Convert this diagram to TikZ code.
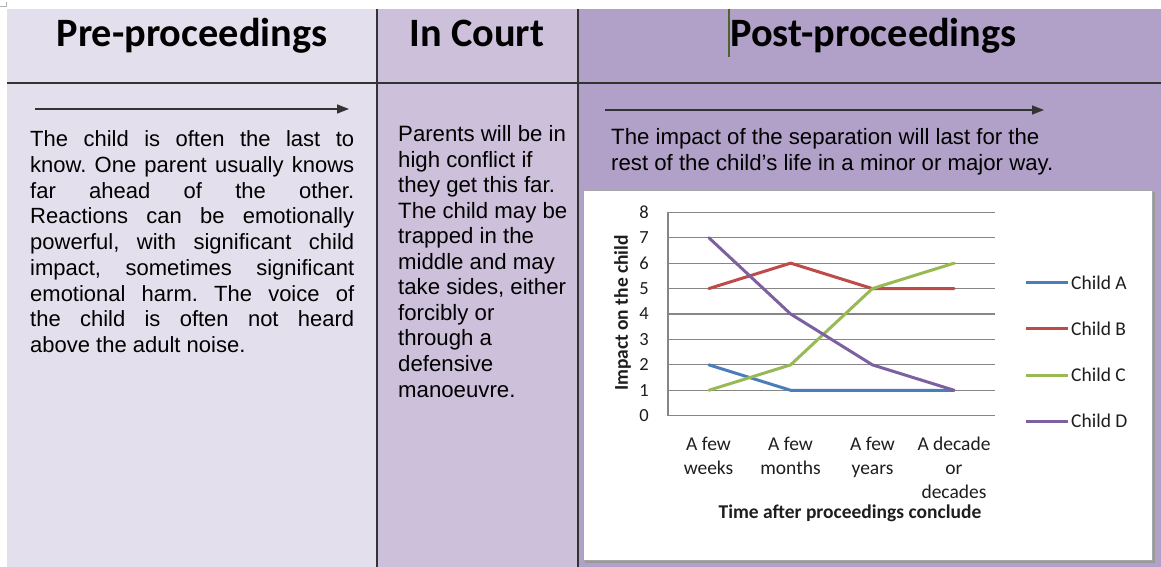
\documentclass[tikz,border=0pt]{standalone}
\usepackage{fontspec}
\setmainfont{Liberation Sans}
\newfontfamily\calfont{Carlito}
\usetikzlibrary{arrows.meta}
\frenchspacing
\definecolor{fillA}{HTML}{E4DFEC}
\definecolor{fillB}{HTML}{CCC0DA}
\definecolor{fillC}{HTML}{B1A0C7}
\definecolor{rule}{HTML}{333333}
\definecolor{gridc}{HTML}{868686}
\definecolor{serA}{HTML}{4A7EBB}
\definecolor{serB}{HTML}{BE4B48}
\definecolor{serC}{HTML}{98B954}
\definecolor{serD}{HTML}{7D60A0}
\definecolor{cursor}{HTML}{4F6228}
\definecolor{chartborder}{HTML}{A6A6A6}
\definecolor{charttext}{HTML}{1E1E1E}
\begin{document}
\begin{tikzpicture}[x=1pt,y=-1pt,
  header/.style={anchor=base, inner sep=0pt, font=\calfont\bfseries\fontsize{40.3}{44}\selectfont},
  bodytext/.style={anchor=base west, inner sep=0pt},
  tablerule/.style={draw=rule, line width=1.5pt},
  timearrow/.style={draw=rule, line width=1.5pt, -{Triangle[length=12pt,width=9pt]}},
  gridline/.style={draw=gridc, line width=1.1pt},
  series/.style={line width=3pt, line join=round, line cap=round},
  tick/.style={inner sep=0pt, text=charttext, font=\calfont\fontsize{18.5}{22}\selectfont},
  catlabel/.style={anchor=base, inner sep=0pt, text=charttext},
  legendtext/.style={anchor=west, inner sep=0pt, text=charttext, font=\calfont\fontsize{19.5}{24}\selectfont}
]
\useasboundingbox (0,0) rectangle (1161,567);
% corner mark
\draw[gray!60, line width=0.8pt] (0,6.5) -- (6,6.5) -- (6,2);
% column fills
\fill[fillA] (7,9) rectangle (377,567);
\fill[fillB] (377,9) rectangle (578,567);
\fill[fillC] (578,9) rectangle (1161,567);
% table rules
\coordinate (hl) at (7,83);
\coordinate (hr) at (1161,83);
\coordinate (v1t) at (377,9);
\coordinate (v1b) at (377,567);
\coordinate (v2t) at (578,9);
\coordinate (v2b) at (578,567);
\draw[tablerule] (hl) -- (hr);
\draw[tablerule] (v1t) -- (v1b);
\draw[tablerule] (v2t) -- (v2b);
% cursor
\coordinate (cut) at (729,9);
\coordinate (cub) at (729,57);
\draw[cursor, line width=1.4pt] (cut) -- (cub);
% headers
\node[header] (h1) at (192,47) {Pre-proceedings};
\node[header] (h2) at (477,47) {In Court};
\node[header] (h3) at (873.5,47) {Post-proceedings};
% arrows
\coordinate (a1s) at (35,109);
\coordinate (a1e) at (349,109);
\coordinate (a3s) at (605,110);
\coordinate (a3e) at (1044,110);
\draw[timearrow] (a1s) -- (a1e);
\draw[timearrow] (a3s) -- (a3e);
% body texts
\node[bodytext] (t1) at (30,146.5) {\parbox[t]{324pt}{\fontsize{22}{25.75}\selectfont
\makebox[324pt][s]{The child is often the last to}\\
\makebox[324pt][s]{know. One parent usually knows}\\
\makebox[324pt][s]{far ahead of the other.}\\
\makebox[324pt][s]{Reactions can be emotionally}\\
\makebox[324pt][s]{powerful, with significant child}\\
\makebox[324pt][s]{impact, sometimes significant}\\
\makebox[324pt][s]{emotional harm. The voice of}\\
\makebox[324pt][s]{the child is often not heard}\\
above the adult noise.}};
\node[bodytext] (t2) at (398,141.5) {\parbox[t]{178pt}{\raggedright\fontsize{22.2}{25.55}\selectfont
Parents will be in\\
high conflict if\\
they get this far.\\
The child may be\\
trapped in the\\
middle and may\\
take sides, either\\
forcibly or\\
through a\\
defensive\\
manoeuvre.}};
\node[bodytext] (t3) at (611,144.5) {\parbox[t]{540pt}{\raggedright\fontsize{22.2}{25.75}\selectfont
The impact of the separation will last for the\\
rest of the child’s life in a minor or major way.}};
% chart box
\draw[gray!80, line width=1.2pt] (585,562) -- (1154,562) -- (1154,192);
\node[draw=chartborder, fill=white, line width=1.2pt, inner sep=0pt, minimum width=569pt, minimum height=370pt, anchor=north west] (chart) at (583,190) {};
% plot
\begin{scope}[shift={(668,415.7)}, x=81.75pt, y=25.425pt]
  \foreach \v in {1,...,8} { \draw[gridline] (0,\v) -- (4,\v); }
  \draw[gridline] (0,0) -- (0,8);
  \draw[gridline] (0,0) -- (4,0);
  \foreach \v in {0,...,8} { \node[tick, anchor=east] (tk\v) at ([xshift=-19pt]0,\v) {\v}; }
  \draw[series, serA] (0.5,2) -- (1.5,1) -- (2.5,1) -- (3.5,1);
  \draw[series, serB] (0.5,5) -- (1.5,6) -- (2.5,5) -- (3.5,5);
  \draw[series, serC] (0.5,1) -- (1.5,2) -- (2.5,5) -- (3.5,6);
  \draw[series, serD] (0.5,7) -- (1.5,4) -- (2.5,2) -- (3.5,1);
\end{scope}
% category labels
\node[catlabel] (c1) at (708.5,450) {\parbox[t]{90pt}{\centering\calfont\fontsize{19.5}{24}\selectfont A few\\weeks}};
\node[catlabel] (c2) at (790.5,450) {\parbox[t]{90pt}{\centering\calfont\fontsize{19.5}{24}\selectfont A few\\months}};
\node[catlabel] (c3) at (872.5,450) {\parbox[t]{90pt}{\centering\calfont\fontsize{19.5}{24}\selectfont A few\\years}};
\node[catlabel] (c4) at (954,450) {\parbox[t]{90pt}{\centering\calfont\fontsize{19.5}{24}\selectfont A decade\\or\\decades}};
\node[catlabel, font=\calfont\bfseries\fontsize{19.5}{24}\selectfont] (xt) at (850,518.5) {Time after proceedings conclude};
\node[rotate=90, inner sep=0pt, text=charttext, font=\calfont\bfseries\fontsize{19.5}{24}\selectfont] (yt) at (622.5,313) {Impact on the child};
% legend
\foreach \n/\c/\y in {A/serA/282.3, B/serB/328.3, C/serC/375, D/serD/421} {
  \coordinate (ls\n) at (1026,\y);
  \coordinate (le\n) at (1068,\y);
  \draw[\c, line width=3pt] (ls\n) -- (le\n);
  \node[legendtext] (lt\n) at (1071,\y) {Child \n};
}
\end{tikzpicture}
\end{document}
